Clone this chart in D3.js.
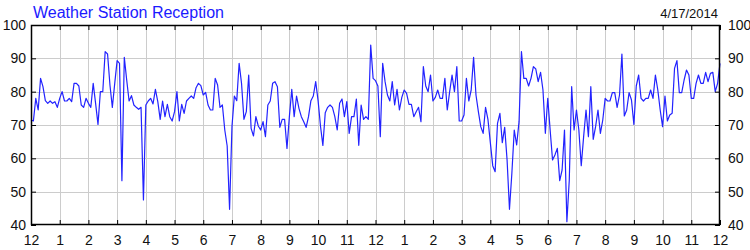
<!DOCTYPE html>
<html><head><meta charset="utf-8">
<script src="https://cdn.jsdelivr.net/npm/d3@7"></script>
<style>html,body{margin:0;padding:0;background:#fff;}svg{display:block;font-family:"Liberation Sans",Arial,sans-serif;}</style>
</head><body>
<svg id="c" width="750" height="250"></svg>
<script>
const title = "Weather Station Reception";
const dateLabel = "4/17/2014";
const hourLabels = ["12","1","2","3","4","5","6","7","8","9","10","11","12","1","2","3","4","5","6","7","8","9","10","11","12"];
const yTicks = [40,50,60,70,80,90,100];
const sampleMinutes = 5;
const reception = [
71.5,71.2,78,74.5,84,81.5,77.3,76.5,77.2,76.5,77,75.3,
78,80,77.2,77.2,78,77,82.5,82.5,81.7,76,75.3,78,
76.5,75.3,82.5,76.5,70.2,80,80,92,91.3,82,75.3,82.5,
89.3,88.5,53.3,90.3,83.5,77.2,78.8,76,75.3,74.7,75.3,47.5,
76,77.2,78,76.3,80.7,77,71.7,77.2,72.5,76.2,72.5,71.2,
74,80,71.2,76.2,73.5,77.2,78,78.7,78,81.2,82.5,81.8,
79,79.8,76,74.5,74.5,84,82,75.3,76,68.5,63.7,44.7,
69.5,78.7,77.3,88.5,82.5,71.7,74,85,69,66.7,72.5,69.7,
68.5,71,66.5,76,77.2,82.5,83,81.5,69.3,71.7,71.7,63,
72.5,80.7,72.5,78.7,75,72.5,71,69.3,72.5,77.3,78.7,83,
77.3,69.7,63.9,73.7,75.3,76,75.3,72.5,68.5,76.5,77.8,72.5,
77,67.5,72.5,72.5,77.8,63.9,76,71.7,72.5,71.7,94,84,
83.3,81.7,66.5,88.5,83,79,77.2,83,76,80.7,74.5,78.3,
80.5,79.5,76.2,76.2,72.5,74,75.3,71,87.5,81.7,80,85,
77.2,78.3,80.5,78,78,84,74.5,80,85,80,87.5,71.2,
71.2,73,84,77.2,80.5,90.3,79,74,69.5,67.5,75.3,71.7,
64.7,57.8,56,70.5,73.5,64.7,69.3,59.5,44.7,55.5,68.5,64,
71,92,84,84,81.7,84,87.5,86.8,83,85.8,80.5,67.5,
78,68.5,59.5,61,63,53.3,56.5,68.5,41,53.5,81.5,68.5,
74.5,68.5,57.8,66.5,74.5,66.5,81.5,65.7,69.5,74.5,67.5,71.5,
78,77.2,77.2,79.7,79.7,75.3,79,91.3,72.7,74.5,79.7,77.5,
70.2,81.7,85,78,77.2,78,78,80.5,78,85,80.5,74.5,
69.5,78.7,71.2,73,73.5,87,89.3,79.7,79.7,83.5,86.5,85,
78,78,82.5,85,82.5,82.5,85.8,83,85.5,85.8,80,82.5,
88.5
];

const svg = d3.select("#c");
const L = 31, R = 720, T = 25, B = 225;
const x = d3.scaleLinear().domain([0, 24]).range([L, R]);
const y = d3.scaleLinear().domain([40, 100]).range([B, T]);
const hours = d3.range(hourLabels.length);

// grid
const grid = svg.append("g").attr("stroke", "#cccccc").attr("stroke-width", 1).attr("shape-rendering", "crispEdges");
grid.selectAll("line.v").data(hours.slice(1, -1)).join("line")
  .attr("x1", d => Math.round(x(d)) + 0.5).attr("x2", d => Math.round(x(d)) + 0.5)
  .attr("y1", T).attr("y2", B);
grid.selectAll("line.h").data(yTicks.slice(1, -1)).join("line")
  .attr("y1", d => Math.round(y(d)) + 0.5).attr("y2", d => Math.round(y(d)) + 0.5)
  .attr("x1", L).attr("x2", R);

// line
const line = d3.line().x((d, i) => x(i * sampleMinutes / 60)).y(d => y(d));
svg.append("path").datum(reception).attr("d", line)
  .attr("fill", "none").attr("stroke", "#2222ff").attr("stroke-width", 1.2).attr("stroke-linejoin", "round");

// axes (inner ticks)
const tickLen = 5;
const fmtH = (d) => hourLabels[d];
const axB = d3.axisBottom(x).tickValues(hours).tickFormat(fmtH).tickSizeInner(-tickLen).tickSizeOuter(0).tickPadding(10);
const axT = d3.axisTop(x).tickValues(hours).tickFormat("").tickSizeInner(-tickLen).tickSizeOuter(0);
const axL = d3.axisLeft(y).tickValues(yTicks).tickSizeInner(-tickLen).tickSizeOuter(0).tickPadding(5);
const axR = d3.axisRight(y).tickValues(yTicks).tickSizeInner(-tickLen).tickSizeOuter(0).tickPadding(8);
function styleAxis(g) {
  g.select(".domain").remove();
  g.selectAll("line").attr("stroke", "#000");
  g.selectAll("text").attr("fill", "#111").attr("font-size", 14).attr("font-family", '"Liberation Sans",Arial,sans-serif');
}
svg.append("g").attr("transform", `translate(0,${B})`).call(axB).call(styleAxis);
svg.append("g").attr("transform", `translate(0,${T})`).call(axT).call(styleAxis);
svg.append("g").attr("transform", `translate(${L},0)`).call(axL).call(styleAxis);
svg.append("g").attr("transform", `translate(${R},0)`).call(axR).call(styleAxis);

// frame
svg.append("rect").attr("x", L + 0.5).attr("y", T + 0.5).attr("width", R - L - 1).attr("height", B - T - 1)
  .attr("fill", "none").attr("stroke", "#000").attr("stroke-width", 1.5);

// titles
svg.append("text").attr("x", 33).attr("y", 18).attr("font-size", 16).attr("fill", "#1a1aff").text(title);
svg.append("text").attr("x", 718).attr("y", 18).attr("text-anchor", "end").attr("font-size", 13).attr("fill", "#111").text(dateLabel);
</script>
</body></html>
